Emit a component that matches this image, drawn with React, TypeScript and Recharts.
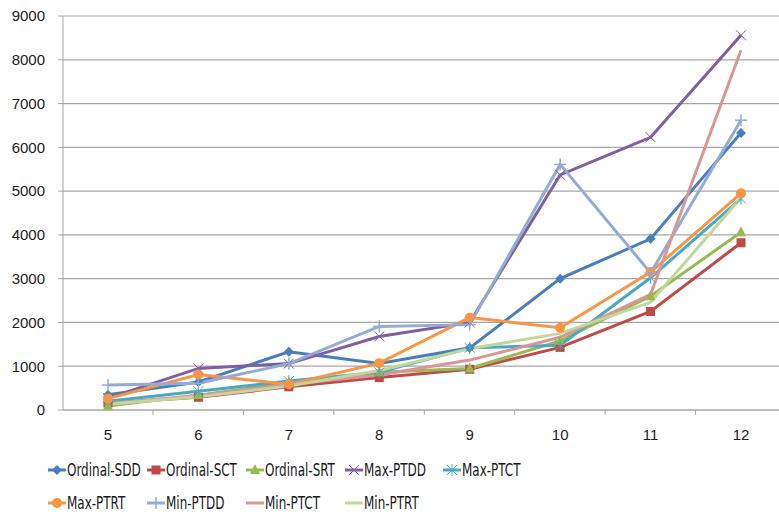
import { LineChart, Line, XAxis, YAxis, CartesianGrid } from 'recharts';

const categories = ['5', '6', '7', '8', '9', '10', '11', '12'];

const ordinalSDD = [350, 640, 1330, 1060, 1420, 3000, 3910, 6330];
const ordinalSCT = [160, 290, 530, 740, 930, 1430, 2250, 3820];
const ordinalSRT = [90, 340, 620, 860, 950, 1580, 2600, 4060];
const maxPTDD = [270, 950, 1060, 1680, 2000, 5370, 6230, 8560];
const maxPTCT = [200, 430, 660, 860, 1420, 1480, 3020, 4830];
const maxPTRT = [260, 810, 590, 1070, 2110, 1880, 3150, 4950];
const minPTDD = [570, 610, 1060, 1910, 1950, 5610, 3130, 6620];
const minPTCT = [150, 330, 580, 800, 1140, 1660, 2640, 8220];
const minPTRT = [130, 300, 550, 900, 1400, 1750, 2460, 4850];

const yTicks = [0, 1000, 2000, 3000, 4000, 5000, 6000, 7000, 8000, 9000];

type Shape = 'diamond' | 'square' | 'triangle' | 'x' | 'star' | 'circle' | 'plus' | 'none';

const series: { name: string; values: number[]; color: string; shape: Shape }[] = [
  { name: 'Ordinal-SDD', values: ordinalSDD, color: '#4A7EBB', shape: 'diamond' },
  { name: 'Ordinal-SCT', values: ordinalSCT, color: '#BE4B48', shape: 'square' },
  { name: 'Ordinal-SRT', values: ordinalSRT, color: '#98B954', shape: 'triangle' },
  { name: 'Max-PTDD', values: maxPTDD, color: '#7D60A0', shape: 'x' },
  { name: 'Max-PTCT', values: maxPTCT, color: '#46AAC5', shape: 'star' },
  { name: 'Max-PTRT', values: maxPTRT, color: '#F79646', shape: 'circle' },
  { name: 'Min-PTDD', values: minPTDD, color: '#95ABD3', shape: 'plus' },
  { name: 'Min-PTCT', values: minPTCT, color: '#D99694', shape: 'none' },
  { name: 'Min-PTRT', values: minPTRT, color: '#C3D69B', shape: 'none' },
];

const data = categories.map((c, i) => {
  const row: Record<string, string | number> = { n: c };
  series.forEach((s) => {
    row[s.name] = s.values[i];
  });
  return row;
});

const HALF_BAND = 45;

const Marker = ({ shape, cx, cy, color }: { shape: Shape; cx: number; cy: number; color: string }) => {
  switch (shape) {
    case 'diamond':
      return <polygon points={`${cx},${cy - 5} ${cx + 5},${cy} ${cx},${cy + 5} ${cx - 5},${cy}`} fill={color} />;
    case 'square':
      return <rect x={cx - 4.5} y={cy - 4.5} width={9} height={9} fill={color} />;
    case 'triangle':
      return <polygon points={`${cx},${cy - 6} ${cx + 5},${cy + 4} ${cx - 5},${cy + 4}`} fill={color} />;
    case 'x':
      return (
        <g stroke={color} strokeWidth={1}>
          <line x1={cx - 5} y1={cy - 5} x2={cx + 5} y2={cy + 5} />
          <line x1={cx - 5} y1={cy + 5} x2={cx + 5} y2={cy - 5} />
        </g>
      );
    case 'star':
      return (
        <g stroke={color} strokeWidth={1}>
          <line x1={cx - 5} y1={cy - 5} x2={cx + 5} y2={cy + 5} />
          <line x1={cx - 5} y1={cy + 5} x2={cx + 5} y2={cy - 5} />
          <line x1={cx} y1={cy - 6} x2={cx} y2={cy + 6} />
        </g>
      );
    case 'circle':
      return <circle cx={cx} cy={cy} r={5} fill={color} />;
    case 'plus':
      return (
        <g stroke={color} strokeWidth={1.5}>
          <line x1={cx - 6} y1={cy} x2={cx + 6} y2={cy} />
          <line x1={cx} y1={cy - 6} x2={cx} y2={cy + 6} />
        </g>
      );
    default:
      return <g />;
  }
};

// tick marks sit between categories, like Excel's "between tick marks" axis
const XTick = (props: any) => {
  const { x, y, payload, index } = props;
  const axisY = y - 21;
  return (
    <g>
      {index < categories.length - 1 && (
        <line x1={x + HALF_BAND} y1={axisY} x2={x + HALF_BAND} y2={axisY + 5} stroke="#a6a6a6" />
      )}
      <text x={x} y={axisY + 30} textAnchor="middle" fontSize={15} fill="#222">
        {payload.value}
      </text>
    </g>
  );
};

const legendX = [48, 147, 246, 345, 443];
const legendY = [470, 503];

const ChartLegend = () => (
  <svg width={779} height={515} style={{ position: 'absolute', left: 0, top: 0, pointerEvents: 'none' }}>
    {series.map((s, i) => {
      const x = legendX[i % 5];
      const y = legendY[Math.floor(i / 5)];
      return (
        <g key={s.name}>
          <line x1={x} y1={y} x2={x + 18} y2={y} stroke={s.color} strokeWidth={3} />
          <Marker shape={s.shape} cx={x + 9} cy={y} color={s.color} />
          <text
            x={x + 19}
            y={y}
            dy="0.36em"
            fontSize={18}
            fill="#1a1a1a"
            fontFamily="'Liberation Sans Narrow', 'DejaVu Sans Condensed', sans-serif"
            transform={`translate(${x + 19} 0) scale(0.74 1) translate(${-(x + 19)} 0)`}
          >
            {s.name}
          </text>
        </g>
      );
    })}
  </svg>
);

export default function App() {
  return (
    <div
      style={{
        position: 'absolute',
        left: 0,
        top: 0,
        width: 779,
        height: 515,
        overflow: 'hidden',
        background: '#fff',
        fontFamily: "'Liberation Sans', Arial, sans-serif",
      }}
    >
      <LineChart width={790} height={515} data={data} margin={{ top: 16, right: 4, left: 0, bottom: 65 }}>
        <CartesianGrid vertical={false} stroke="#a6a6a6" strokeWidth={1.2} />
        <XAxis
          dataKey="n"
          height={40}
          padding={{ left: HALF_BAND, right: HALF_BAND }}
          tickLine={false}
          tickSize={5}
          tickMargin={16}
          stroke="#a6a6a6"
          tick={<XTick />}
          interval={0}
        />
        <YAxis
          width={63}
          domain={[0, 9000]}
          ticks={yTicks}
          tickSize={5}
          tickMargin={13}
          stroke="#a6a6a6"
          tick={{ fill: '#222', fontSize: 15 }}
        />
        {series.map((s) => (
          <Line
            key={s.name}
            dataKey={s.name}
            type="linear"
            stroke={s.color}
            strokeWidth={3}
            isAnimationActive={false}
            dot={(p: any) => <Marker key={`${s.name}-${p.index}`} shape={s.shape} cx={p.cx} cy={p.cy} color={s.color} />}
            activeDot={false}
          />
        ))}
      </LineChart>
      <ChartLegend />
    </div>
  );
}
